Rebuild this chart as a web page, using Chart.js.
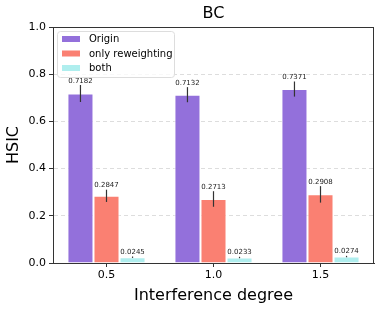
<!DOCTYPE html>
<html>
<head>
<meta charset="utf-8">
<script src="https://cdn.jsdelivr.net/npm/chart.js@4"></script>
<style>
  html, body { margin: 0; padding: 0; background: #fff; }
  #wrap { width: 382px; height: 309px; position: relative; }
</style>
</head>
<body>
<div id="wrap"><canvas id="hsicChart" width="382" height="309"></canvas></div>
<script>
// data
const categories = ['0.5', '1.0', '1.5'];
const originVals = [0.7182, 0.7132, 0.7371];
const reweightVals = [0.2847, 0.2713, 0.2908];
const bothVals = [0.0245, 0.0233, 0.0274];
const originErr = [0.036, 0.032, 0.032];
const reweightErr = [0.026, 0.033, 0.035];
const bothErr = [0.003, 0.003, 0.003];
const seriesNames = ['Origin', 'only reweighting', 'both'];

const FONT = "'DejaVu Sans', sans-serif";
const colors = ['#9370DB', '#FA8072', '#AFEEEE'];
const errs = [originErr, reweightErr, bothErr];

// error bars + value labels
const errorBarPlugin = {
    id: 'errorBars',
    afterDatasetsDraw(chart) {
        const ctx = chart.ctx;
        const y = chart.scales.y;
        ctx.save();
        chart.data.datasets.forEach((ds, i) => {
            const meta = chart.getDatasetMeta(i);
            meta.data.forEach((bar, j) => {
                const v = ds.data[j];
                const e = errs[i][j];
                const top = y.getPixelForValue(v + e);
                const bot = y.getPixelForValue(v - e);
                ctx.strokeStyle = '#333';
                ctx.lineWidth = 1.2;
                ctx.beginPath();
                ctx.moveTo(bar.x, top);
                ctx.lineTo(bar.x, bot);
                ctx.stroke();
                ctx.fillStyle = '#222';
                ctx.font = '7px ' + FONT;
                ctx.textAlign = 'center';
                ctx.textBaseline = 'alphabetic';
                ctx.fillText(v.toFixed(4), bar.x, top - 2.5);
            });
        });
        ctx.restore();
    }
};

// frame, title and legend box like matplotlib
const framePlugin = {
    id: 'frame',
    afterDraw(chart) {
        const ctx = chart.ctx;
        const a = chart.chartArea;
        ctx.save();
        ctx.strokeStyle = '#333';
        ctx.lineWidth = 1;
        ctx.strokeRect(a.left + 0.5, a.top + 0.5, a.right - a.left - 1, a.bottom - a.top);

        ctx.fillStyle = '#000';
        ctx.font = '16px ' + FONT;
        ctx.textAlign = 'center';
        ctx.textBaseline = 'middle';
        ctx.fillText('BC', (a.left + a.right) / 2, 14);

        // legend
        const lx = a.left + 4, ly = a.top + 4, lw = 117, lh = 46;
        ctx.fillStyle = 'rgba(255,255,255,0.8)';
        ctx.strokeStyle = '#dddddd';
        ctx.beginPath();
        ctx.roundRect(lx + 0.5, ly + 0.5, lw, lh, 3);
        ctx.fill();
        ctx.stroke();
        ctx.font = '10px ' + FONT;
        ctx.textAlign = 'left';
        seriesNames.forEach((name, i) => {
            const ry = ly + 8 + i * 14.5;
            ctx.fillStyle = colors[i];
            ctx.fillRect(lx + 5, ry - 3, 18, 6);
            ctx.fillStyle = '#000';
            ctx.fillText(name, lx + 32, ry + 0.5);
        });
        ctx.restore();
    }
};

new Chart(document.getElementById('hsicChart').getContext('2d'), {
    type: 'bar',
    data: {
        labels: categories,
        datasets: [
            { label: seriesNames[0], data: originVals, backgroundColor: colors[0] },
            { label: seriesNames[1], data: reweightVals, backgroundColor: colors[1] },
            { label: seriesNames[2], data: bothVals, backgroundColor: colors[2] }
        ]
    },
    options: {
        responsive: false,
        animation: false,
        devicePixelRatio: 1,
        layout: { padding: { top: 27, right: 8, left: 0, bottom: 0 } },
        datasets: {
            bar: {
                categoryPercentage: 0.73,
                barPercentage: 1.0,
                borderColor: '#ffffff',
                borderWidth: 1
            }
        },
        plugins: {
            legend: { display: false },
            title: { display: false },
            tooltip: { enabled: false }
        },
        scales: {
            x: {
                offset: true,
                grid: { offset: false, drawOnChartArea: false, drawTicks: true, tickLength: 4, tickColor: '#333' },
                border: { color: '#333' },
                ticks: { color: '#000', font: { family: FONT, size: 11 }, padding: 2 },
                title: { display: true, text: 'Interference degree', color: '#000', font: { family: FONT, size: 16 }, padding: { top: 2 } },
                afterFit(s) { s.height = 46; }
            },
            y: {
                min: 0,
                max: 1,
                ticks: {
                    stepSize: 0.2,
                    color: '#000',
                    font: { family: FONT, size: 11 },
                    padding: 3,
                    callback: v => v.toFixed(1)
                },
                grid: { color: '#dddddd', tickColor: '#333', tickLength: 4, tickBorderDash: [] },
                border: { color: '#333', dash: [4, 3] },
                title: { display: true, text: 'HSIC', color: '#000', font: { family: FONT, size: 16 }, padding: { top: 4, bottom: 0 } },
                afterFit(s) { s.width = 53; }
            }
        }
    },
    plugins: [errorBarPlugin, framePlugin]
});
</script>
</body>
</html>
